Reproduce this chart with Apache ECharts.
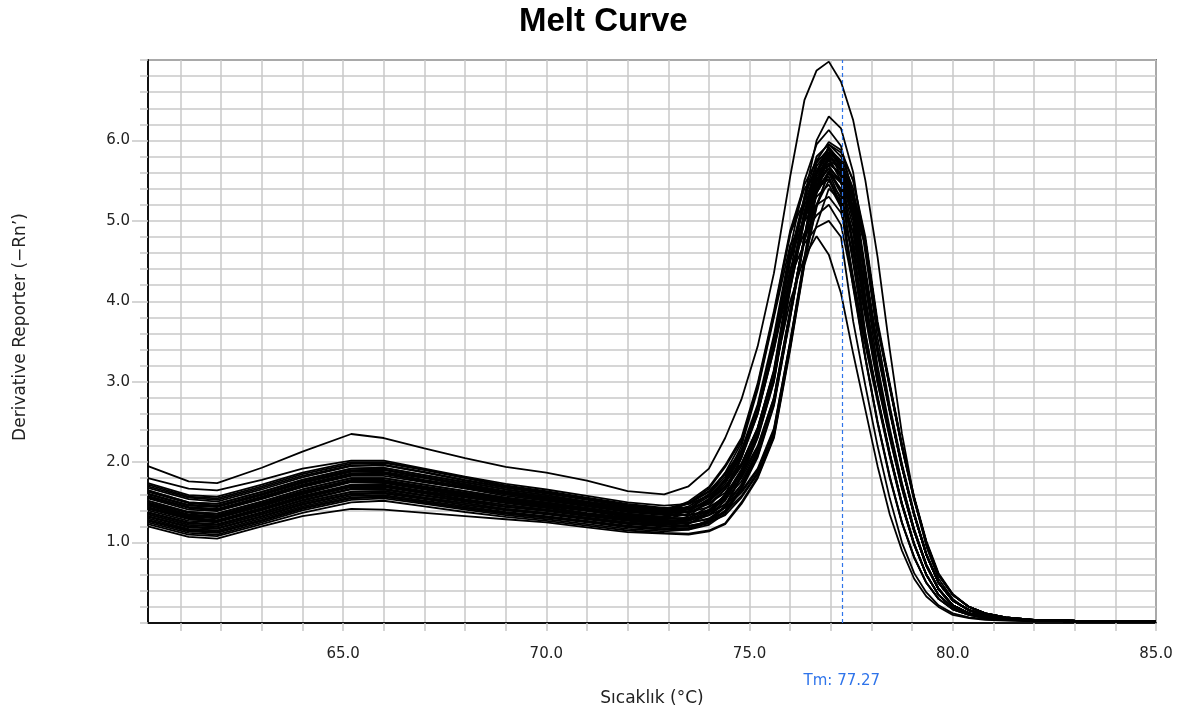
<!DOCTYPE html>
<html>
<head>
<meta charset="utf-8">
<script src="https://cdn.jsdelivr.net/npm/echarts@6/dist/echarts.min.js"></script>
<style>html,body{margin:0;padding:0;background:#fff;}#chart{width:1187px;height:719px;}</style>
</head>
<body>
<div id="chart"></div>
<script>
// Temperatures (°C) at which each melt-curve sample is read
const temps = [60.2, 61.2, 61.9, 63.0, 64.0, 65.2, 66.0, 67.0, 68.0, 69.0, 70.0, 71.0, 72.0, 72.9,
  73.5, 74.0, 74.4, 74.8, 75.2, 75.6, 76.0, 76.35, 76.65, 76.95, 77.25, 77.55, 77.85, 78.15,
  78.45, 78.75, 79.05, 79.35, 79.65, 80.0, 80.4, 80.8, 81.3, 82.0, 83.0, 85.0];

// Derivative reporter (-Rn') values per well
const wellA = [1.95,1.76,1.74,1.93,2.13,2.35,2.30,2.17,2.05,1.94,1.87,1.77,1.64,1.60,1.70,1.92,2.30,2.78,3.44,4.35,5.55,6.50,6.87,6.98,6.73,6.25,5.50,4.55,3.40,2.35,1.55,0.95,0.55,0.30,0.15,0.09,0.05,0.03,0.02,0.02];
const wellB = [1.80,1.67,1.65,1.78,1.92,2.02,2.02,1.92,1.82,1.73,1.66,1.58,1.50,1.46,1.48,1.58,1.76,1.98,2.42,3.15,4.35,5.30,6.00,6.30,6.15,5.60,4.60,3.55,2.70,1.98,1.37,0.86,0.50,0.28,0.16,0.10,0.06,0.035,0.025,0.02];
const wellC = [1.72,1.57,1.55,1.70,1.85,1.98,1.99,1.90,1.80,1.70,1.63,1.55,1.47,1.42,1.49,1.64,1.86,2.15,2.72,3.58,4.65,5.50,5.95,6.13,5.93,5.30,4.20,3.20,2.42,1.74,1.17,0.73,0.43,0.22,0.12,0.08,0.05,0.03,0.02,0.02];
const wellD = [1.52,1.38,1.36,1.51,1.66,1.80,1.80,1.72,1.64,1.56,1.50,1.43,1.36,1.32,1.39,1.54,1.76,2.10,2.62,3.40,4.30,4.72,4.92,5.00,4.80,3.75,2.95,2.20,1.55,1.00,0.62,0.38,0.22,0.12,0.07,0.05,0.035,0.025,0.02,0.02];
const wellE = [1.40,1.27,1.25,1.40,1.55,1.69,1.69,1.61,1.53,1.47,1.41,1.35,1.29,1.25,1.27,1.37,1.55,1.88,2.35,3.10,4.00,4.55,4.81,4.58,4.10,3.35,2.65,1.95,1.35,0.90,0.55,0.33,0.20,0.10,0.06,0.04,0.03,0.02,0.02,0.02];
const well01 = [1.70,1.56,1.53,1.68,1.83,1.96,1.97,1.88,1.78,1.69,1.62,1.54,1.46,1.41,1.48,1.63,1.85,2.12,2.68,3.52,4.57,5.30,5.80,5.95,5.80,5.40,4.40,3.42,2.66,1.95,1.35,0.85,0.50,0.28,0.16,0.10,0.06,0.035,0.025,0.02];
const well02 = [1.65,1.50,1.48,1.63,1.78,1.92,1.93,1.84,1.75,1.66,1.59,1.51,1.44,1.39,1.51,1.69,1.96,2.30,2.98,3.88,4.88,5.45,5.75,5.85,5.57,4.70,3.60,2.80,2.10,1.48,0.98,0.60,0.35,0.19,0.11,0.07,0.045,0.03,0.02,0.02];
const well03 = [1.58,1.44,1.42,1.57,1.72,1.86,1.87,1.78,1.70,1.61,1.55,1.47,1.40,1.36,1.38,1.48,1.66,1.95,2.40,3.10,4.25,5.10,5.75,5.98,5.88,5.50,4.75,3.70,2.95,2.20,1.55,1.00,0.60,0.35,0.20,0.12,0.07,0.04,0.03,0.02];
const well04 = [1.52,1.38,1.36,1.51,1.66,1.80,1.80,1.72,1.64,1.56,1.50,1.43,1.36,1.32,1.39,1.54,1.76,2.10,2.65,3.50,4.55,5.25,5.60,5.75,5.55,5.00,3.95,3.05,2.35,1.70,1.15,0.72,0.42,0.22,0.12,0.08,0.05,0.03,0.02,0.02];
const well05 = [1.46,1.32,1.30,1.45,1.60,1.75,1.74,1.66,1.58,1.51,1.45,1.39,1.32,1.28,1.28,1.34,1.48,1.72,2.12,2.75,3.85,4.80,5.60,5.90,5.75,5.35,4.35,3.40,2.65,1.95,1.35,0.85,0.50,0.28,0.16,0.10,0.06,0.035,0.025,0.02];
const well06 = [1.42,1.29,1.26,1.41,1.56,1.70,1.70,1.62,1.54,1.47,1.41,1.35,1.29,1.25,1.27,1.37,1.55,1.88,2.33,3.03,4.18,5.05,5.40,5.60,5.25,4.25,3.30,2.50,1.82,1.25,0.82,0.50,0.30,0.17,0.10,0.06,0.04,0.03,0.02,0.02];
const well07 = [1.35,1.22,1.20,1.35,1.50,1.63,1.64,1.56,1.49,1.42,1.37,1.31,1.25,1.22,1.21,1.25,1.34,1.56,1.85,2.35,3.45,4.50,5.35,5.80,5.70,5.35,4.75,3.70,2.95,2.20,1.55,1.00,0.60,0.35,0.20,0.12,0.07,0.04,0.03,0.02];
const well08 = [1.30,1.17,1.15,1.30,1.45,1.58,1.59,1.52,1.45,1.38,1.33,1.27,1.21,1.18,1.18,1.24,1.38,1.68,2.08,2.72,3.80,4.75,5.20,5.50,5.30,4.75,3.85,3.00,2.32,1.68,1.14,0.71,0.42,0.22,0.12,0.08,0.05,0.03,0.02,0.02];
const well09 = [1.25,1.12,1.10,1.25,1.40,1.53,1.55,1.48,1.41,1.34,1.29,1.23,1.17,1.14,1.16,1.26,1.44,1.82,2.30,3.00,4.15,5.00,5.45,5.65,5.37,4.50,3.55,2.80,2.10,1.48,0.98,0.60,0.35,0.19,0.11,0.07,0.045,0.03,0.02,0.02];
const well10 = [1.20,1.07,1.05,1.20,1.33,1.42,1.41,1.37,1.33,1.29,1.25,1.19,1.13,1.11,1.10,1.14,1.23,1.48,1.80,2.30,3.40,4.45,4.95,5.40,5.25,4.85,4.20,3.35,2.62,1.93,1.34,0.85,0.50,0.28,0.16,0.10,0.06,0.035,0.025,0.02];
const well11 = [1.63,1.49,1.46,1.61,1.76,1.90,1.91,1.82,1.73,1.64,1.57,1.50,1.43,1.38,1.38,1.44,1.57,1.80,2.18,2.80,3.88,4.80,5.40,5.70,5.60,5.25,4.70,3.68,2.93,2.18,1.53,0.99,0.60,0.35,0.20,0.12,0.07,0.04,0.03,0.02];
const well12 = [1.60,1.46,1.44,1.59,1.74,1.88,1.88,1.80,1.71,1.62,1.56,1.48,1.41,1.37,1.49,1.67,1.94,2.27,2.95,3.85,4.85,5.25,5.45,5.55,5.20,4.20,3.30,2.50,1.82,1.25,0.82,0.50,0.30,0.17,0.10,0.06,0.04,0.03,0.02,0.02];
const well13 = [1.50,1.37,1.34,1.49,1.64,1.78,1.78,1.70,1.62,1.55,1.49,1.42,1.35,1.31,1.30,1.34,1.43,1.62,1.90,2.40,3.50,4.55,5.40,5.85,5.70,5.30,4.35,3.40,2.65,1.95,1.35,0.85,0.50,0.28,0.16,0.10,0.06,0.035,0.025,0.02];
const well14 = [1.48,1.34,1.32,1.47,1.62,1.76,1.76,1.68,1.60,1.53,1.47,1.40,1.33,1.29,1.36,1.51,1.73,2.08,2.62,3.45,4.50,5.05,5.30,5.45,5.17,4.30,3.50,2.78,2.08,1.47,0.97,0.60,0.35,0.19,0.11,0.07,0.045,0.03,0.02,0.02];
const well15 = [1.38,1.25,1.23,1.38,1.53,1.67,1.67,1.59,1.52,1.45,1.40,1.34,1.28,1.24,1.24,1.30,1.44,1.72,2.12,2.75,3.85,4.80,5.62,5.92,5.72,5.17,4.05,3.10,2.38,1.72,1.16,0.72,0.42,0.22,0.12,0.08,0.05,0.03,0.02,0.02];
const well16 = [1.33,1.20,1.18,1.33,1.48,1.61,1.62,1.55,1.47,1.41,1.36,1.30,1.24,1.21,1.33,1.51,1.78,2.20,2.90,3.80,4.70,5.00,5.20,5.30,5.10,4.60,3.80,2.98,2.30,1.67,1.14,0.71,0.42,0.22,0.12,0.08,0.05,0.03,0.02,0.02];
const well17 = [1.28,1.16,1.13,1.28,1.43,1.56,1.57,1.50,1.43,1.36,1.31,1.26,1.20,1.16,1.23,1.38,1.60,2.05,2.60,3.40,4.40,4.85,5.07,5.20,4.95,4.20,3.45,2.75,2.07,1.46,0.97,0.60,0.35,0.19,0.11,0.07,0.045,0.03,0.02,0.02];
const well18 = [1.27,1.14,1.12,1.27,1.42,1.55,1.57,1.50,1.43,1.36,1.31,1.25,1.19,1.16,1.16,1.22,1.36,1.66,2.06,2.70,3.80,4.78,5.48,5.78,5.68,5.33,4.75,3.70,2.95,2.20,1.55,1.00,0.60,0.35,0.20,0.12,0.07,0.04,0.03,0.02];
const well19 = [1.44,1.31,1.28,1.43,1.58,1.72,1.72,1.64,1.57,1.50,1.44,1.37,1.31,1.27,1.29,1.39,1.57,1.90,2.35,3.05,4.20,5.05,5.68,5.88,5.68,5.13,4.00,3.08,2.36,1.71,1.15,0.72,0.42,0.22,0.12,0.08,0.05,0.03,0.02,0.02];
const well20 = [1.56,1.43,1.40,1.55,1.70,1.84,1.85,1.76,1.68,1.60,1.53,1.46,1.39,1.35,1.34,1.38,1.47,1.64,1.92,2.42,3.50,4.50,5.17,5.62,5.47,5.07,4.30,3.38,2.64,1.94,1.35,0.85,0.50,0.28,0.16,0.10,0.06,0.035,0.025,0.02];
const well21 = [1.65,1.50,1.48,1.63,1.78,1.92,1.93,1.84,1.75,1.66,1.59,1.51,1.44,1.39,1.41,1.51,1.69,1.97,2.42,3.12,4.25,5.10,5.62,5.82,5.62,5.07,4.00,3.07,2.36,1.71,1.15,0.72,0.42,0.22,0.12,0.08,0.05,0.03,0.02,0.02];
const well22 = [1.35,1.22,1.20,1.35,1.50,1.63,1.64,1.56,1.49,1.42,1.37,1.31,1.25,1.22,1.24,1.34,1.52,1.87,2.33,3.03,4.18,5.03,5.52,5.72,5.57,5.17,4.35,3.40,2.65,1.95,1.35,0.85,0.50,0.28,0.16,0.10,0.06,0.035,0.025,0.02];
const well23 = [1.68,1.54,1.51,1.66,1.81,1.95,1.96,1.87,1.77,1.68,1.61,1.53,1.45,1.40,1.42,1.52,1.70,1.98,2.43,3.13,4.27,5.12,5.55,5.75,5.65,5.30,4.75,3.70,2.95,2.20,1.55,1.00,0.60,0.35,0.20,0.12,0.07,0.04,0.03,0.02];
const well24 = [1.61,1.47,1.45,1.60,1.75,1.89,1.90,1.81,1.72,1.63,1.57,1.49,1.42,1.38,1.45,1.60,1.82,2.12,2.67,3.52,4.56,5.27,5.72,5.90,5.70,5.15,4.02,3.09,2.37,1.71,1.15,0.72,0.42,0.22,0.12,0.08,0.05,0.03,0.02,0.02];
const well25 = [1.55,1.41,1.39,1.54,1.69,1.83,1.83,1.75,1.67,1.58,1.52,1.45,1.38,1.34,1.34,1.40,1.54,1.76,2.15,2.78,3.87,4.80,5.50,5.80,5.65,5.25,4.35,3.40,2.65,1.95,1.35,0.85,0.50,0.28,0.16,0.10,0.06,0.035,0.025,0.02];
const well26 = [1.49,1.35,1.33,1.48,1.63,1.77,1.77,1.69,1.61,1.54,1.48,1.41,1.34,1.30,1.42,1.60,1.87,2.24,2.93,3.83,4.83,5.40,5.60,5.68,5.48,4.93,3.93,3.04,2.34,1.70,1.15,0.72,0.42,0.22,0.12,0.08,0.05,0.03,0.02,0.02];
const well27 = [1.43,1.30,1.27,1.42,1.57,1.71,1.71,1.63,1.56,1.49,1.43,1.36,1.30,1.26,1.25,1.29,1.38,1.58,1.87,2.37,3.47,4.52,5.40,5.95,5.85,5.50,4.80,3.75,2.98,2.22,1.57,1.02,0.62,0.36,0.20,0.12,0.07,0.04,0.03,0.02];
const well28 = [1.37,1.24,1.22,1.37,1.52,1.66,1.66,1.58,1.51,1.44,1.39,1.33,1.27,1.23,1.30,1.45,1.67,2.06,2.60,3.45,4.50,5.20,5.50,5.65,5.50,5.10,4.30,3.38,2.64,1.94,1.35,0.85,0.50,0.28,0.16,0.10,0.06,0.035,0.025,0.02];
const well29 = [1.32,1.19,1.17,1.32,1.47,1.60,1.61,1.54,1.47,1.40,1.35,1.29,1.23,1.20,1.20,1.26,1.40,1.69,2.10,2.73,3.82,4.77,5.35,5.62,5.34,4.47,3.55,2.80,2.10,1.48,0.98,0.60,0.35,0.19,0.11,0.07,0.045,0.03,0.02,0.02];
const well30 = [1.28,1.15,1.13,1.28,1.43,1.56,1.57,1.50,1.43,1.37,1.32,1.26,1.20,1.16,1.18,1.28,1.46,1.84,2.31,3.01,4.16,5.00,5.60,5.85,5.70,5.30,4.35,3.40,2.65,1.95,1.35,0.85,0.50,0.28,0.16,0.10,0.06,0.035,0.025,0.02];
const well31 = [1.74,1.59,1.57,1.72,1.87,2.00,2.00,1.91,1.81,1.71,1.64,1.56,1.48,1.43,1.43,1.49,1.62,1.84,2.20,2.80,3.88,4.80,5.35,5.60,5.50,5.15,4.70,3.68,2.93,2.18,1.53,0.99,0.60,0.35,0.20,0.12,0.07,0.04,0.03,0.02];
const well32 = [1.57,1.44,1.41,1.56,1.71,1.85,1.86,1.77,1.69,1.60,1.54,1.46,1.39,1.35,1.42,1.57,1.79,2.11,2.66,3.50,4.55,5.20,5.40,5.52,5.17,4.17,3.28,2.48,1.80,1.24,0.81,0.50,0.30,0.17,0.10,0.06,0.04,0.03,0.02,0.02];
const well33 = [1.47,1.33,1.31,1.46,1.61,1.76,1.75,1.67,1.59,1.52,1.46,1.40,1.33,1.29,1.31,1.41,1.59,1.91,2.36,3.06,4.21,5.05,5.58,5.78,5.50,4.63,3.60,2.82,2.11,1.49,0.99,0.60,0.35,0.19,0.11,0.07,0.045,0.03,0.02,0.02];
const well34 = [1.23,1.10,1.08,1.23,1.37,1.50,1.52,1.45,1.38,1.32,1.27,1.21,1.15,1.12,1.11,1.15,1.24,1.50,1.82,2.32,3.42,4.47,5.20,5.60,5.40,4.85,3.90,3.02,2.33,1.69,1.14,0.71,0.42,0.22,0.12,0.08,0.05,0.03,0.02,0.02];

const wells = [well01, well02, well03, well04, well05, well06, well07, well08, well09, well10, well11,
  well12, well13, well14, well15, well16, well17, well18, well19, well20, well21, well22,
  well23, well24, well25, well26, well27, well28, well29, well30, well31, well32, well33, well34,
  wellD, wellE, wellC, wellB, wellA];

// Axis ticks / labels
const xTickValues = [61,62,63,64,65,66,67,68,69,70,71,72,73,74,75,76,77,78,79,80,81,82,83,84,85];
const xLabelValues = [65, 70, 75, 80, 85];
const yLabelValues = [1, 2, 3, 4, 5, 6];
const tmValue = 77.27;

const GRID = '#c8c8c8';
const FONT = 'DejaVu Sans';

const series = wells.map((w) => ({
  type: 'line',
  data: temps.map((t, i) => [t, w[i]]),
  showSymbol: false,
  symbol: 'none',
  silent: true,
  lineStyle: { color: '#000', width: 1.8 },
  z: 3,
  xAxisIndex: 0,
  yAxisIndex: 0
}));
series.push({
  type: 'line',
  data: [],
  silent: true,
  z: 6,
  markLine: {
    silent: true,
    symbol: 'none',
    animation: false,
    lineStyle: { color: '#2f74ea', type: [4, 3], width: 1.2 },
    label: {
      show: true, position: 'start', distance: 51,
      formatter: 'Tm: ' + tmValue.toFixed(2),
      color: '#2f74ea', fontSize: 15, fontFamily: FONT
    },
    data: [{ xAxis: tmValue }]
  }
});

const chart = echarts.init(document.getElementById('chart'), null, { renderer: 'canvas' });
chart.setOption({
  animation: false,
  backgroundColor: '#fff',
  title: {
    text: 'Melt Curve',
    left: 519, top: 5, padding: 0,
    textStyle: { fontFamily: 'Liberation Sans', fontWeight: 'bold', fontSize: 33, color: '#000' }
  },
  grid: {
    left: 148, right: 31, top: 60, bottom: 96,
    show: true, borderColor: '#111', borderWidth: 1.5, backgroundColor: 'transparent'
  },
  xAxis: [{
    type: 'value', min: 60.2, max: 85,
    name: 'Sıcaklık (°C)', nameLocation: 'middle', nameGap: 67,
    nameTextStyle: { fontFamily: FONT, fontSize: 17, color: '#222' },
    axisLine: { show: true, lineStyle: { color: '#111', width: 2 } },
    axisTick: { show: true, customValues: xTickValues, length: 8, lineStyle: { color: GRID, width: 1.5 } },
    axisLabel: {
      show: true, customValues: xLabelValues, margin: 24,
      formatter: v => Number(v).toFixed(1),
      fontFamily: FONT, fontSize: 15, color: '#222'
    },
    splitLine: { show: true, lineStyle: { color: GRID, width: 1.5 } }
  }],
  yAxis: [{
    type: 'value', min: 0, max: 7, interval: 0.2, position: 'left',
    name: 'Derivative Reporter (−Rn\u2019)', nameLocation: 'middle', nameGap: 119,
    nameTextStyle: { fontFamily: FONT, fontSize: 17, color: '#222', padding: [0, 0, 0, 29] },
    axisLine: { show: true, lineStyle: { color: '#111', width: 2 } },
    axisTick: { show: true, length: 8, lineStyle: { color: GRID, width: 1.5 } },
    axisLabel: { show: false },
    splitLine: { show: true, lineStyle: { color: GRID, width: 1.5 } }
  }, {
    type: 'value', min: 0, max: 7, interval: 1, position: 'left', offset: 0,
    axisLine: { show: false },
    axisTick: { show: true, customValues: yLabelValues, length: 16, lineStyle: { color: GRID, width: 1.5 } },
    axisLabel: {
      show: true, customValues: yLabelValues, margin: 18,
      formatter: v => Number(v).toFixed(1),
      fontFamily: FONT, fontSize: 15, color: '#222'
    },
    splitLine: { show: false }
  }],
  series: series
});
</script>
</body>
</html>
